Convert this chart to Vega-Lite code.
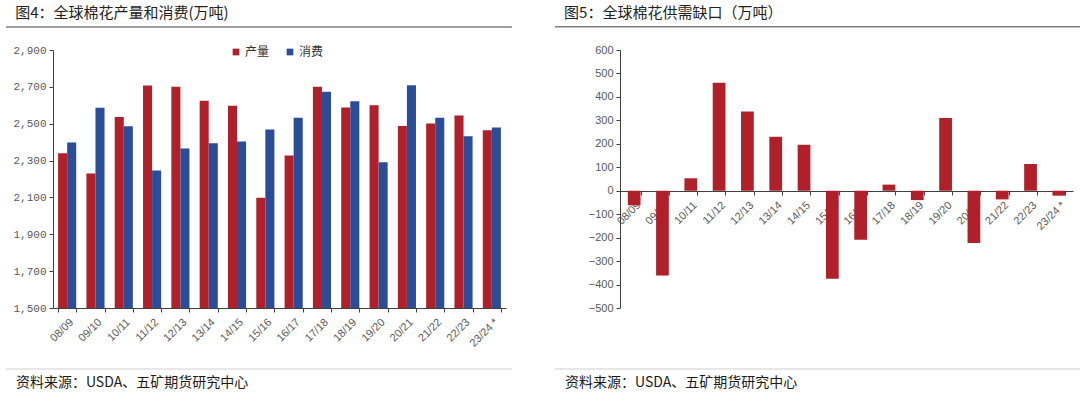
{
  "$schema": "https://vega.github.io/schema/vega-lite/v6.json",
  "background": "white",
  "padding": 5,
  "spacing": 41,
  "config": {
    "view": {"stroke": null},
    "axis": {"grid": false, "domainColor": "#404040", "tickColor": "#404040", "labelColor": "#595959", "tickSize": 4},
    "title": {"font": "Noto Sans CJK SC", "fontSize": 15, "fontWeight": "normal", "color": "#222222", "anchor": "start"}
  },
  "datasets": {
    "prodcons": [
      {"season": "08/09", "type": "产量", "value": 2340}, {"season": "08/09", "type": "消费", "value": 2398},
      {"season": "09/10", "type": "产量", "value": 2230}, {"season": "09/10", "type": "消费", "value": 2586},
      {"season": "10/11", "type": "产量", "value": 2537}, {"season": "10/11", "type": "消费", "value": 2486},
      {"season": "11/12", "type": "产量", "value": 2707}, {"season": "11/12", "type": "消费", "value": 2246},
      {"season": "12/13", "type": "产量", "value": 2701}, {"season": "12/13", "type": "消费", "value": 2365},
      {"season": "13/14", "type": "产量", "value": 2625}, {"season": "13/14", "type": "消费", "value": 2394},
      {"season": "14/15", "type": "产量", "value": 2598}, {"season": "14/15", "type": "消费", "value": 2403},
      {"season": "15/16", "type": "产量", "value": 2098}, {"season": "15/16", "type": "消费", "value": 2468},
      {"season": "16/17", "type": "产量", "value": 2328}, {"season": "16/17", "type": "消费", "value": 2532},
      {"season": "17/18", "type": "产量", "value": 2701}, {"season": "17/18", "type": "消费", "value": 2674},
      {"season": "18/19", "type": "产量", "value": 2588}, {"season": "18/19", "type": "消费", "value": 2622},
      {"season": "19/20", "type": "产量", "value": 2600}, {"season": "19/20", "type": "消费", "value": 2291},
      {"season": "20/21", "type": "产量", "value": 2488}, {"season": "20/21", "type": "消费", "value": 2709},
      {"season": "21/22", "type": "产量", "value": 2501}, {"season": "21/22", "type": "消费", "value": 2532},
      {"season": "22/23", "type": "产量", "value": 2544}, {"season": "22/23", "type": "消费", "value": 2432},
      {"season": "23/24 *", "type": "产量", "value": 2465}, {"season": "23/24 *", "type": "消费", "value": 2479}
    ],
    "gap": [
      {"season": "08/09", "gap": -62}, {"season": "09/10", "gap": -361}, {"season": "10/11", "gap": 53},
      {"season": "11/12", "gap": 460}, {"season": "12/13", "gap": 338}, {"season": "13/14", "gap": 230},
      {"season": "14/15", "gap": 196}, {"season": "15/16", "gap": -375}, {"season": "16/17", "gap": -209},
      {"season": "17/18", "gap": 26}, {"season": "18/19", "gap": -40}, {"season": "19/20", "gap": 310},
      {"season": "20/21", "gap": -223}, {"season": "21/22", "gap": -37}, {"season": "22/23", "gap": 114},
      {"season": "23/24 *", "gap": -21}
    ],
    "one": [{}]
  },
  "hconcat": [
    {
      "width": 453,
      "height": 258,
      "title": {"text": "图4：全球棉花产量和消费(万吨)", "dx": 10, "offset": 5},
      "layer": [
        {
          "data": {"name": "prodcons"},
          "mark": {"type": "bar", "clip": true},
          "encoding": {
            "x": {"field": "season", "type": "nominal", "sort": null,
              "scale": {"paddingInner": 0.36, "paddingOuter": 0.18},
              "axis": {"title": null, "labelAngle": -45, "labelFont": "Liberation Sans", "labelFontSize": 11, "tickBand": "extent", "labelPadding": 4}},
            "xOffset": {"field": "type", "type": "nominal", "sort": ["产量", "消费"], "scale": {"paddingInner": 0}},
            "y": {"field": "value", "type": "quantitative", "stack": null,
              "scale": {"domain": [1500, 2900], "nice": false, "zero": false},
              "axis": {"title": null, "values": [1500, 1700, 1900, 2100, 2300, 2500, 2700, 2900], "format": ",d", "labelFont": "Liberation Mono", "labelFontSize": 11, "labelPadding": 3}},
            "color": {"field": "type", "type": "nominal",
              "scale": {"domain": ["产量", "消费"], "range": ["#B0202A", "#2B4D97"]},
              "legend": {"title": null, "orient": "none", "legendX": 177, "legendY": -4, "direction": "horizontal", "symbolType": "square", "symbolSize": 45, "symbolStrokeWidth": 0, "labelFont": "Noto Sans CJK SC", "labelFontSize": 12, "labelColor": "#333333", "labelOffset": 3, "columnPadding": 14}}
          }
        },
        {
          "data": {"name": "one"},
          "mark": {"type": "rule", "color": "#808080", "strokeWidth": 1.6},
          "encoding": {
            "x": {"datum": -1.66, "type": "quantitative", "scale": {"domain": [0, 16], "nice": false, "zero": false}, "axis": null},
            "x2": {"datum": 16.21},
            "y": {"datum": 3025, "type": "quantitative", "scale": {"domain": [1500, 2900], "nice": false, "zero": false}, "axis": null}
          }
        },
        {
          "data": {"name": "one"},
          "mark": {"type": "rule", "color": "#d0d0d0", "strokeWidth": 1},
          "encoding": {
            "x": {"datum": -1.66, "type": "quantitative", "scale": {"domain": [0, 16], "nice": false, "zero": false}, "axis": null},
            "x2": {"datum": 16.21},
            "y": {"datum": 1169, "type": "quantitative", "scale": {"domain": [1500, 2900], "nice": false, "zero": false}, "axis": null}
          }
        },
        {
          "data": {"name": "one"},
          "mark": {"type": "text", "text": "资料来源：USDA、五矿期货研究中心", "align": "left", "baseline": "middle", "font": "Noto Sans CJK SC", "fontSize": 14, "color": "#1a1a1a"},
          "encoding": {
            "x": {"datum": -1.31, "type": "quantitative", "scale": {"domain": [0, 16], "nice": false, "zero": false}, "axis": null},
            "y": {"datum": 1093, "type": "quantitative", "scale": {"domain": [1500, 2900], "nice": false, "zero": false}, "axis": null}
          }
        }
      ],
      "resolve": {"scale": {"x": "independent", "y": "independent"}}
    },
    {
      "width": 453,
      "height": 258,
      "title": {"text": "图5：全球棉花供需缺口（万吨）", "dx": 10, "offset": 5},
      "layer": [
        {
          "data": {"name": "gap"},
          "mark": {"type": "bar", "color": "#B0202A"},
          "encoding": {
            "x": {"field": "season", "type": "nominal", "sort": null,
              "scale": {"paddingInner": 0.55, "paddingOuter": 0.275},
              "axis": {"title": null, "labelAngle": -45, "labelFont": "Liberation Sans", "labelFontSize": 11, "tickBand": "extent", "offset": -117, "labelPadding": 4}},
            "y": {"field": "gap", "type": "quantitative",
              "scale": {"domain": [-500, 600], "nice": false},
              "axis": {"title": null, "values": [-500, -400, -300, -200, -100, 0, 100, 200, 300, 400, 500, 600], "labelFont": "Liberation Sans", "labelFontSize": 11, "labelPadding": 3}}
          }
        },
        {
          "data": {"name": "one"},
          "mark": {"type": "rule", "color": "#808080", "strokeWidth": 1.6},
          "encoding": {
            "x": {"datum": -2.3, "type": "quantitative", "scale": {"domain": [0, 16], "nice": false, "zero": false}, "axis": null},
            "x2": {"datum": 16.25},
            "y": {"datum": 699, "type": "quantitative", "scale": {"domain": [-500, 600], "nice": false}, "axis": null}
          }
        },
        {
          "data": {"name": "one"},
          "mark": {"type": "rule", "color": "#d0d0d0", "strokeWidth": 1},
          "encoding": {
            "x": {"datum": -2.3, "type": "quantitative", "scale": {"domain": [0, 16], "nice": false, "zero": false}, "axis": null},
            "x2": {"datum": 16.25},
            "y": {"datum": -760, "type": "quantitative", "scale": {"domain": [-500, 600], "nice": false}, "axis": null}
          }
        },
        {
          "data": {"name": "one"},
          "mark": {"type": "text", "text": "资料来源：USDA、五矿期货研究中心", "align": "left", "baseline": "middle", "font": "Noto Sans CJK SC", "fontSize": 14, "color": "#1a1a1a"},
          "encoding": {
            "x": {"datum": -1.94, "type": "quantitative", "scale": {"domain": [0, 16], "nice": false, "zero": false}, "axis": null},
            "y": {"datum": -820, "type": "quantitative", "scale": {"domain": [-500, 600], "nice": false}, "axis": null}
          }
        }
      ],
      "resolve": {"scale": {"x": "independent", "y": "independent"}}
    }
  ]
}
